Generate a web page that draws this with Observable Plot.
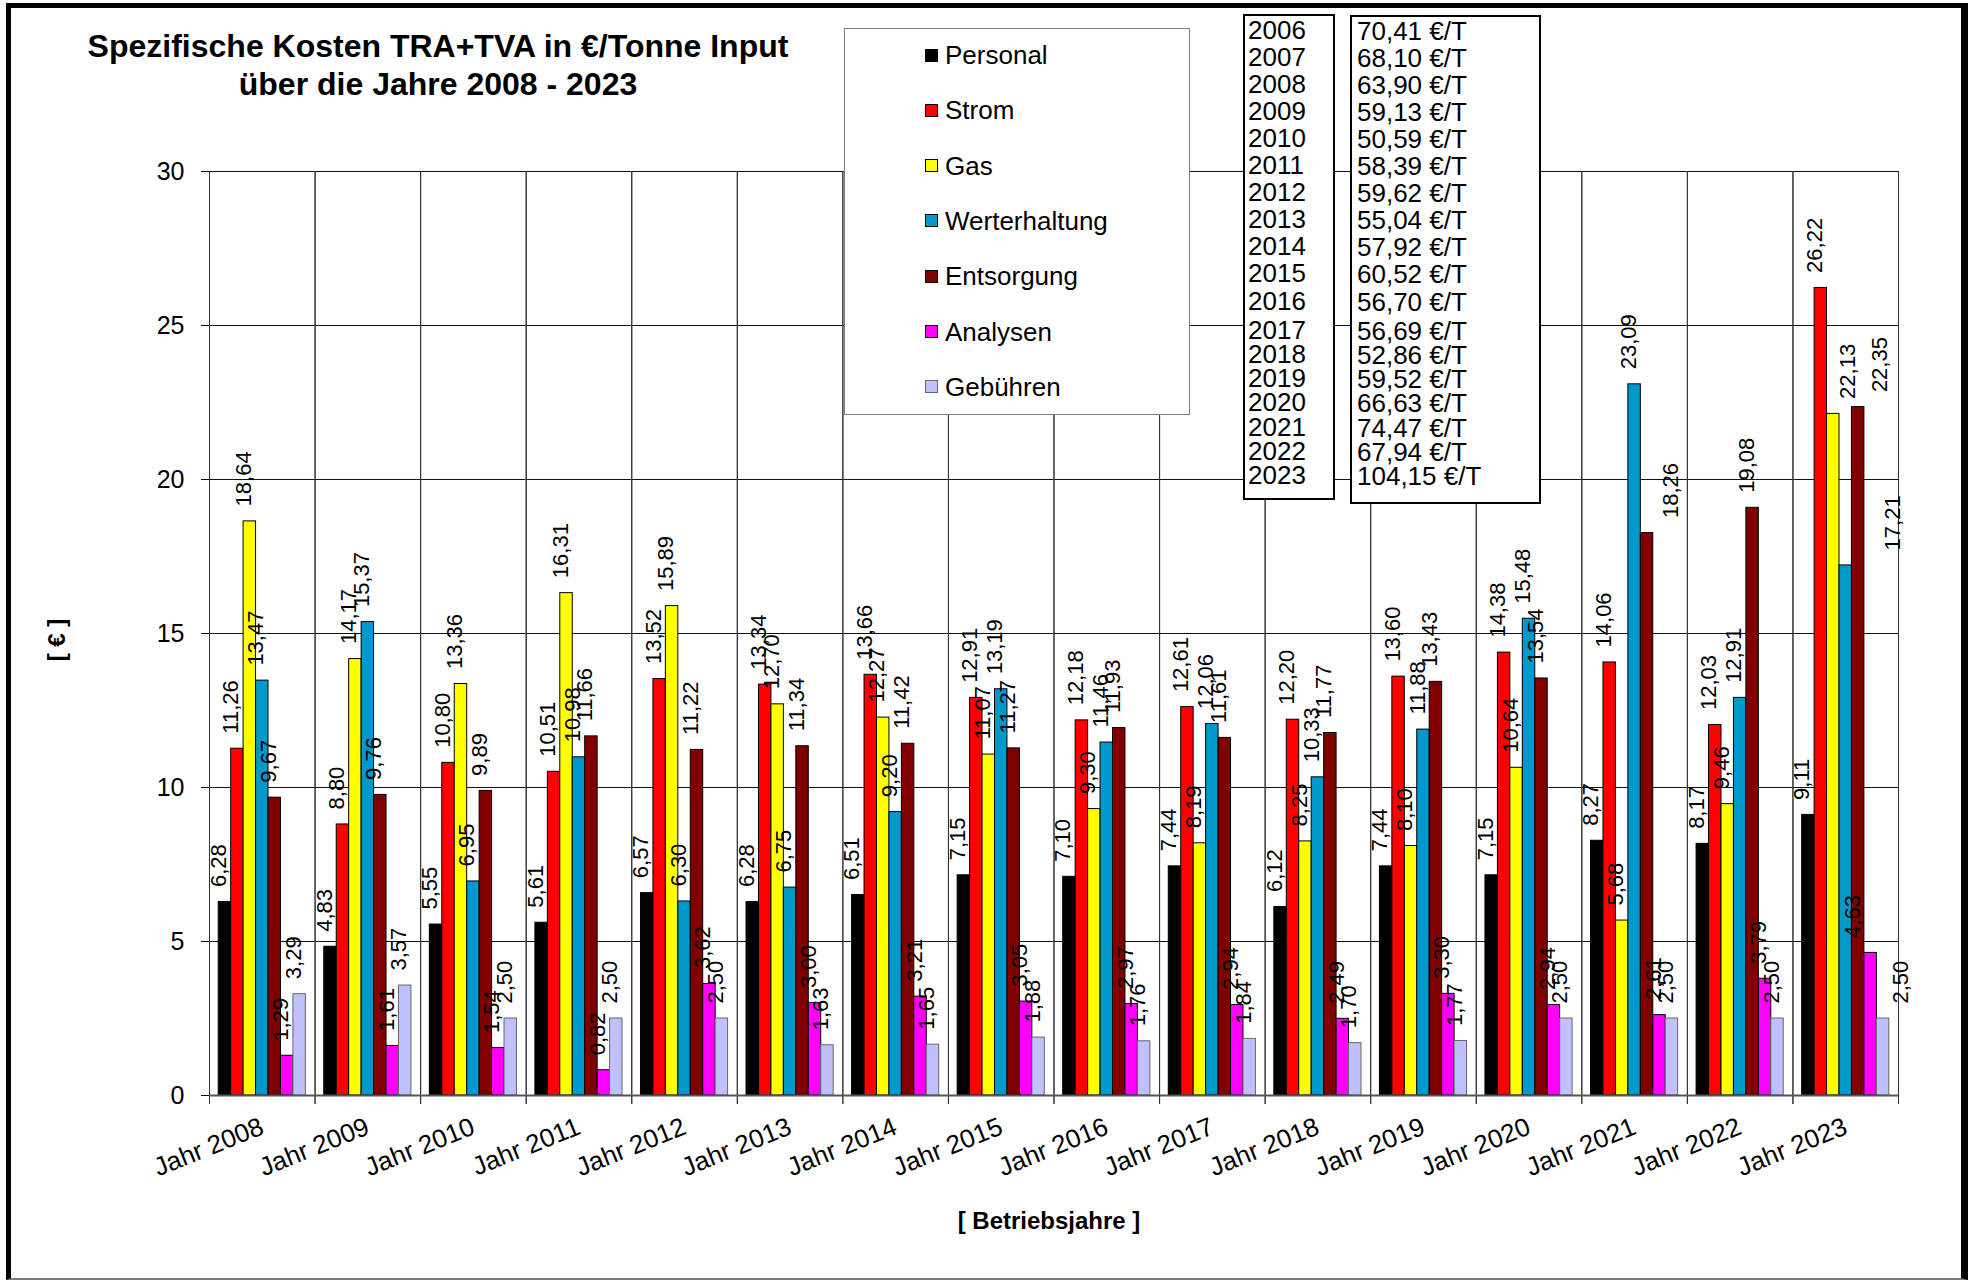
<!DOCTYPE html>
<html>
<head>
<meta charset="utf-8">
<script src="https://cdn.jsdelivr.net/npm/d3@7"></script>
<script src="https://cdn.jsdelivr.net/npm/@observablehq/plot@0.6"></script>
<style>
  body { margin: 0; background: #fff; font-family: "Liberation Sans", Arial, sans-serif; }
  #page { position: relative; width: 1968px; height: 1280px; overflow: hidden; background: #fff; }
  #chart { position: absolute; left: 0; top: 0; }
  .abs { position: absolute; }
  #title { left: 0; top: 27px; width: 876px; text-align: center; font: bold 32px/38px "Liberation Sans", Arial, sans-serif; color: #000; }
  #legend { left: 844px; top: 28px; width: 346px; height: 387px; border: 1px solid #7f7f7f; background: #fff; box-sizing: border-box; }
  .sw { position: absolute; width: 13px; height: 13px; border: 1px solid #000; box-sizing: border-box; }
  .lt { position: absolute; font: 26px/30px "Liberation Sans", Arial, sans-serif; color: #000; white-space: nowrap; }
  #yearbox { left: 1243px; top: 14px; width: 92px; height: 486px; border: 2px solid #000; background: #fff; box-sizing: border-box; }
  #valbox { left: 1350px; top: 15px; width: 191px; height: 489px; border: 2px solid #000; background: #fff; box-sizing: border-box; }
  .bt { position: absolute; font: 26px/23px "Liberation Sans", Arial, sans-serif; color: #000; white-space: nowrap; }
  #xlabel { left: 849px; width: 400px; top: 1206px; text-align: center; font: bold 24px/30px "Liberation Sans", Arial, sans-serif; }
  #ylabel { left: 7px; top: 625px; width: 100px; text-align: center; font: bold 24px/30px "Liberation Sans", Arial, sans-serif; transform: rotate(-90deg); }
  #border { left: 6px; top: 3px; width: 1962px; height: 1277px; box-sizing: border-box;
            border-left: 5px solid #000; border-top: 5px solid #000; border-right: 7px solid #000; border-bottom: 2px solid #7a7a7a;
            pointer-events: none; }
</style>
</head>
<body>
<div id="page">
  <div id="chart"></div>
  <div id="title" class="abs">Spezifische Kosten TRA+TVA in €/Tonne Input<br>über die Jahre 2008 - 2023</div>
  <div id="legend" class="abs"></div>
  <div id="yearbox" class="abs"></div>
  <div id="valbox" class="abs"></div>
  <div id="xlabel" class="abs">[ Betriebsjahre ]</div>
  <div id="ylabel" class="abs">[ € ]</div>
  <div id="border" class="abs"></div>
</div>
<script>
// ---------- data ----------
const years = ["Jahr 2008","Jahr 2009","Jahr 2010","Jahr 2011","Jahr 2012","Jahr 2013","Jahr 2014","Jahr 2015",
               "Jahr 2016","Jahr 2017","Jahr 2018","Jahr 2019","Jahr 2020","Jahr 2021","Jahr 2022","Jahr 2023"];
const seriesNames = ["Personal","Strom","Gas","Werterhaltung","Entsorgung","Analysen","Gebühren"];
const seriesColors = ["#000000","#FF0000","#FFFF00","#0099CC","#800000","#FF00FF","#C0C0FF"];

const personal      = [6.28, 4.83, 5.55, 5.61, 6.57, 6.28, 6.51, 7.15, 7.10, 7.44, 6.12, 7.44, 7.15, 8.27, 8.17, 9.11];
const strom         = [11.26, 8.80, 10.80, 10.51, 13.52, 13.34, 13.66, 12.91, 12.18, 12.61, 12.20, 13.60, 14.38, 14.06, 12.03, 26.22];
const gas           = [18.64, 14.17, 13.36, 16.31, 15.89, 12.70, 12.27, 11.07, 9.30, 8.19, 8.25, 8.10, 10.64, 5.68, 9.46, 22.13];
const werterhaltung = [13.47, 15.37, 6.95, 10.98, 6.30, 6.75, 9.20, 13.19, 11.46, 12.06, 10.33, 11.88, 15.48, 23.09, 12.91, 17.21];
const entsorgung    = [9.67, 9.76, 9.89, 11.66, 11.22, 11.34, 11.42, 11.27, 11.93, 11.61, 11.77, 13.43, 13.54, 18.26, 19.08, 22.35];
const analysen      = [1.29, 1.61, 1.54, 0.82, 3.62, 3.00, 3.21, 3.05, 2.97, 2.94, 2.49, 3.30, 2.94, 2.61, 3.79, 4.63];
const gebuehren     = [3.29, 3.57, 2.50, 2.50, 2.50, 1.63, 1.65, 1.88, 1.76, 1.84, 1.70, 1.77, 2.50, 2.50, 2.50, 2.50];

const yTicks = [0, 5, 10, 15, 20, 25, 30];

const tableYears  = [2006, 2007, 2008, 2009, 2010, 2011, 2012, 2013, 2014, 2015, 2016, 2017, 2018, 2019, 2020, 2021, 2022, 2023];
const tableTotals = [70.41, 68.10, 63.90, 59.13, 50.59, 58.39, 59.62, 55.04, 57.92, 60.52, 56.70, 56.69, 52.86, 59.52, 66.63, 74.47, 67.94, 104.15];

// ---------- build table ----------
const seriesValues = [personal, strom, gas, werterhaltung, entsorgung, analysen, gebuehren];
const rows = [];
years.forEach((yr, i) => {
  seriesNames.forEach((s, j) => rows.push({year: yr, series: s, value: seriesValues[j][i]}));
});
const fmt = v => d3.format(".2f")(v).replace(".", ",");

// value labels that were moved sideways by hand in the original (horizontal nudge, px)
const labelNudge = new Map([
  ["Jahr 2021|Entsorgung", 30],
  ["Jahr 2023|Gas", 21],
  ["Jahr 2023|Entsorgung", 28],
  ["Jahr 2023|Werterhaltung", 53],
  ["Jahr 2023|Analysen", -12],
  ["Jahr 2023|Gebühren", 24]
]);
const key = d => d.year + "|" + d.series;
const labelOpts = {x: "series", y: "value", text: d => fmt(d.value), rotate: -90, textAnchor: "start", lineAnchor: "middle",
                   dy: -15, fontSize: 22, fill: "#000"};
const labelMarks = [
  Plot.text(rows, {...labelOpts, dx: -6, filter: d => !labelNudge.has(key(d))}),
  ...[...labelNudge].map(([k, n]) => Plot.text(rows, {...labelOpts, dx: -6 + n, filter: d => key(d) === k}))
];

const chart = Plot.plot({
  width: 1968,
  height: 1280,
  marginLeft: 209,
  marginRight: 70,
  marginTop: 171,
  marginBottom: 185,
  style: {background: "transparent", fontFamily: "Liberation Sans, Arial, sans-serif", fontSize: "25px", color: "#000", overflow: "visible"},
  facet: {data: rows, x: "year"},
  fx: {domain: years, padding: 0, round: false, axis: "bottom", tickRotate: -22, tickSize: 0, tickPadding: 30, label: null},
  x: {domain: seriesNames, paddingInner: 0, paddingOuter: 0.74, round: false, axis: null},
  y: {domain: [0, 30], ticks: yTicks, tickSize: 8, tickPadding: 17, label: null},
  color: {domain: seriesNames, range: seriesColors},
  marks: [
    Plot.ruleY(yTicks.filter(v => v > 0), {stroke: "#111", strokeWidth: 1}),
    Plot.frame({anchor: "left", stroke: "#333", insetBottom: -8}),
    Plot.frame({anchor: "right", stroke: "#333", insetBottom: -8}),
    Plot.barY(rows, {x: "series", y: "value", fill: "series", stroke: "#000", strokeWidth: 1, filter: d => d.series !== "Gebühren"}),
    Plot.barY(rows, {x: "series", y: "value", fill: "series", stroke: "#666", strokeWidth: 1, filter: d => d.series === "Gebühren"}),
    Plot.ruleY([0], {stroke: "#555", strokeWidth: 2}),
    ...labelMarks
  ]
});
document.getElementById("chart").appendChild(chart);
chart.querySelectorAll("[aria-label='fx-axis tick label'] text, [aria-label='fx-axis'] text").forEach(t => t.setAttribute("font-size", "26"));

// ---------- legend ----------
const page = document.getElementById("page");
seriesNames.forEach((s, i) => {
  const cy = 55 + i * 55.3;
  const sw = document.createElement("div");
  sw.className = "sw";
  sw.style.left = "925px";
  sw.style.top = (cy - 6.5) + "px";
  sw.style.background = seriesColors[i];
  if (s === "Gebühren") sw.style.borderColor = "#666";
  page.appendChild(sw);
  const t = document.createElement("div");
  t.className = "lt";
  t.style.left = "945px";
  t.style.top = (cy - 15) + "px";
  t.textContent = s;
  page.appendChild(t);
});

// ---------- year / total boxes ----------
tableYears.forEach((yr, i) => {
  const cy = i < 11 ? 30 + i * 27.1 : 330 + (i - 11) * 24.3;
  const a = document.createElement("div");
  a.className = "bt";
  a.style.left = "1248px";
  a.style.top = (cy - 11.5) + "px";
  a.textContent = String(yr);
  page.appendChild(a);
  const b = document.createElement("div");
  b.className = "bt";
  b.style.left = "1357px";
  b.style.top = (cy - 10.5) + "px";
  b.textContent = fmt(tableTotals[i]) + " €/T";
  page.appendChild(b);
});
["legend","yearbox","valbox"].forEach(id => document.getElementById(id).style.zIndex = 0);
document.querySelectorAll(".sw,.lt,.bt").forEach(el => el.style.zIndex = 1);
document.getElementById("border").style.zIndex = 2;
</script>
</body>
</html>
